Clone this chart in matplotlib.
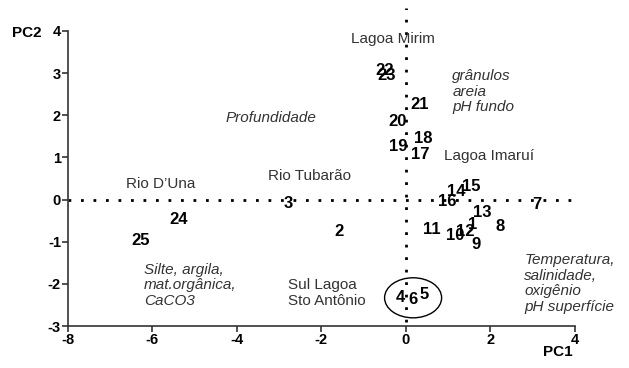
import matplotlib.pyplot as plt
from matplotlib.patches import Ellipse

plt.rcParams['font.family'] = ['Liberation Sans', 'DejaVu Sans']
plt.rcParams['axes.unicode_minus'] = False

# Site scores on the first two principal components
sites = ['1', '2', '3', '4', '5', '6', '7', '8', '9', '10', '11', '12', '13',
         '14', '15', '16', '17', '18', '19', '20', '21', '22', '23', '24', '25']
pc1 = [1.57, -1.59, -2.78, -0.14, 0.43, 0.17, 3.1, 2.23, 1.66, 1.16, 0.62, 1.4, 1.8,
       1.2, 1.55, 0.97, 0.33, 0.4, -0.17, -0.2, 0.33, -0.5, -0.45, -5.39, -6.29]
pc2 = [-0.6, -0.76, -0.1, -2.33, -2.26, -2.38, -0.12, -0.64, -1.07, -0.86, -0.71, -0.76, -0.3,
       0.2, 0.3, -0.05, 1.07, 1.45, 1.26, 1.85, 2.26, 3.05, 2.95, -0.48, -0.98]

fig = plt.figure(figsize=(6.29, 3.68), dpi=100)
ax = fig.add_axes([0.108, 0.114, 0.806, 0.802])

ax.set_xlim(-8, 4)
ax.set_ylim(-3, 4)
ax.set_xticks([-8, -6, -4, -2, 0, 2, 4])
ax.set_yticks([-3, -2, -1, 0, 1, 2, 3, 4])
ax.spines['top'].set_visible(False)
ax.spines['right'].set_visible(False)
for s in ['left', 'bottom']:
    ax.spines[s].set_color('#333333')
    ax.spines[s].set_linewidth(1.2)
ax.tick_params(direction='out', length=4, width=1.2, color='#333333', pad=1)
for lab in ax.get_xticklabels() + ax.get_yticklabels():
    lab.set_fontweight('bold')
    lab.set_fontsize(10.5)

# dotted zero lines
ax.plot([-8, 3.95], [0, 0], color='black', linestyle=(0, (1, 3.5)), linewidth=2, clip_on=False)
ax.plot([0, 0], [-2.9, 4.55], color='black', linestyle=(0, (1, 3.5)), linewidth=2, clip_on=False)

for s, x, y in zip(sites, pc1, pc2):
    ax.text(x, y, s, fontsize=12, fontweight='bold', ha='center', va='center')

ax.add_patch(Ellipse((0.17, -2.33), 1.35, 0.95, fill=False, edgecolor='black', linewidth=1))

grey = '#333333'
ax.text(-0.3, 3.8, 'Lagoa Mirim', fontsize=11, color=grey, ha='center', va='center')
ax.text(1.1, 3.1, 'grânulos\nareia\npH fundo', fontsize=11, color=grey, style='italic',
        ha='left', va='top', linespacing=1.15)
ax.text(-3.2, 1.93, 'Profundidade', fontsize=11, color=grey, style='italic', ha='center', va='center')
ax.text(0.9, 1.03, 'Lagoa Imaruí', fontsize=11, color=grey, ha='left', va='center')
ax.text(-5.8, 0.36, 'Rio D’Una', fontsize=11, color=grey, ha='center', va='center')
ax.text(-2.28, 0.57, 'Rio Tubarão', fontsize=11, color=grey, ha='center', va='center')
ax.text(-6.2, -1.5, 'Silte, argila,\nmat.orgânica,\nCaCO3', fontsize=11, color=grey,
        style='italic', ha='left', va='top', linespacing=1.15)
ax.text(-2.8, -1.87, 'Sul Lagoa\nSto Antônio', fontsize=11, color=grey,
        ha='left', va='top', linespacing=1.15)
ax.text(2.8, -1.27, 'Temperatura,\nsalinidade,\noxigênio\npH superfície', fontsize=11,
        color=grey, style='italic', ha='left', va='top', linespacing=1.15)

fig.text(0.043, 0.91, 'PC2', fontsize=11, fontweight='bold', ha='center', va='center')
fig.text(0.887, 0.043, 'PC1', fontsize=11, fontweight='bold', ha='center', va='center')

fig.savefig('out.png', dpi=100)
